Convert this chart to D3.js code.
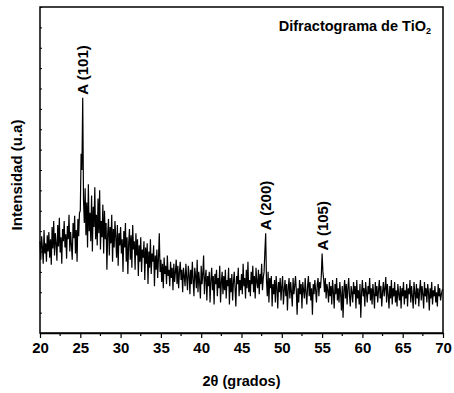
<!DOCTYPE html>
<html>
<head>
<meta charset="utf-8">
<script src="https://cdn.jsdelivr.net/npm/d3@7"></script>
<style>
  html, body { margin: 0; padding: 0; background: #fff; }
  svg { display: block; font-family: "Liberation Sans", Arial, sans-serif; font-weight: bold; }
</style>
</head>
<body>
<svg id="chart" width="454" height="393"></svg>
<script>
// 2θ start/end/step (degrees)
const twoThetaStart = 20;
const twoThetaStep = 0.1;

// Intensity (a.u.), one row per degree, 0.1° step
const intensity = [
  90, 72, 95, 84, 68, 101, 78, 88, 70, 96,        // 20
  80, 99, 74, 92, 67, 104, 83, 110, 76, 98,       // 21
  88, 71, 106, 85, 113, 79, 94, 68, 102, 90,      // 22
  110, 84, 97, 73, 105, 92, 116, 80, 99, 86,      // 23
  72, 108, 93, 115, 78, 101, 70, 112, 95, 118,    // 24
  120, 176, 160, 231, 130, 108, 142, 96, 128, 84, // 25
  146, 100, 118, 90, 135, 80, 124, 104, 143, 92,  // 26
  116, 86, 132, 98, 140, 82, 110, 94, 126, 78,    // 27
  120, 92, 108, 62, 98, 112, 76, 104, 88, 116,    // 28
  70, 102, 84, 110, 94, 74, 106, 66, 98, 86,      // 29
  104, 78, 92, 60, 100, 84, 108, 70, 94, 58,      // 30
  88, 102, 72, 96, 64, 106, 82, 90, 62, 98,       // 31
  76, 92, 56, 86, 70, 94, 60, 82, 74, 90,         // 32
  52, 84, 68, 88, 48, 80, 64, 92, 58, 78,         // 33
  70, 86, 46, 76, 62, 82, 54, 74, 98, 60,         // 34
  72, 50, 68, 44, 74, 58, 66, 48, 76, 56,         // 35
  62, 46, 70, 54, 64, 42, 68, 50, 60, 72,         // 36
  48, 66, 44, 60, 70, 52, 62, 40, 64, 56,         // 37
  46, 68, 54, 42, 66, 58, 38, 62, 48, 70,         // 38
  52, 36, 64, 56, 44, 72, 40, 60, 50, 34,         // 39
  66, 48, 58, 76, 38, 54, 62, 32, 56, 46,         // 40
  60, 30, 52, 64, 42, 56, 28, 58, 48, 62,         // 41
  36, 54, 44, 66, 30, 50, 60, 38, 56, 42,         // 42
  62, 34, 52, 46, 64, 28, 54, 40, 58, 32,         // 43
  50, 60, 44, 26, 56, 48, 64, 36, 52, 42,         // 44
  58, 38, 68, 46, 54, 34, 62, 44, 70, 40,         // 45
  52, 36, 60, 48, 66, 40, 56, 34, 64, 50,         // 46
  44, 62, 38, 58, 48, 68, 42, 54, 60, 80,         // 47
  98, 52, 36, 60, 30, 54, 44, 56, 26, 48,         // 48
  38, 52, 30, 56, 44, 24, 50, 40, 54, 32,         // 49
  46, 56, 28, 42, 52, 36, 48, 22, 44, 54,         // 50
  34, 50, 40, 26, 54, 38, 46, 56, 42, 18,         // 51
  44, 30, 52, 38, 48, 24, 50, 42, 34, 54,         // 52
  40, 28, 46, 56, 36, 50, 32, 44, 18, 48,         // 53
  38, 52, 42, 30, 48, 54, 36, 50, 44, 56,         // 54
  78, 60, 52, 40, 54, 34, 48, 42, 30, 50,         // 55
  36, 46, 28, 52, 40, 24, 48, 38, 54, 32,         // 56
  44, 30, 50, 38, 22, 46, 15, 42, 52, 34,         // 57
  48, 28, 44, 54, 36, 26, 46, 40, 30, 50,         // 58
  38, 46, 24, 52, 34, 42, 28, 48, 15, 40,         // 59
  52, 36, 44, 26, 50, 40, 30, 46, 38, 54,         // 60
  32, 44, 28, 48, 38, 24, 50, 36, 46, 30,         // 61
  42, 52, 34, 46, 26, 40, 50, 36, 44, 55,         // 62
  30, 48, 38, 24, 46, 34, 52, 28, 44, 36,         // 63
  50, 30, 42, 26, 48, 38, 32, 46, 24, 44,         // 64
  36, 50, 28, 42, 34, 48, 26, 44, 38, 52,         // 65
  30, 46, 36, 24, 50, 40, 28, 48, 34, 44,         // 66
  26, 42, 52, 32, 46, 38, 24, 50, 36, 44,         // 67
  30, 48, 40, 22, 44, 34, 50, 28, 42, 36,         // 68
  46, 30, 40, 26, 48, 36, 44, 32, 38, 42,         // 69
  43                                              // 70
];

// Peak annotations
const peakLabels = ["A (101)", "A (200)", "A (105)"];
const peakPositions = [25.3, 48.0, 55.0];

// Axis ticks
const xMajorTicks = [20, 25, 30, 35, 40, 45, 50, 55, 60, 65, 70];
const xDomain = [20, 70];
const yDomain = [0, 320];

const xTitle = "2θ (grados)";
const yTitle = "Intensidad (u.a)";
const chartTitle = "Difractograma de TiO";
const chartTitleSub = "2";

// ---------------------------------------------------------------
const data = intensity.map((v, i) => ({ x: +(twoThetaStart + i * twoThetaStep).toFixed(1), y: v }));

const svg = d3.select("#chart");
const margin = { left: 40, right: 11, top: 7, bottom: 60 };
const W = 454, H = 393;
const x = d3.scaleLinear().domain(xDomain).range([margin.left, W - margin.right]);
const y = d3.scaleLinear().domain(yDomain).range([H - margin.bottom, margin.top]);

// frame
svg.append("rect")
  .attr("x", margin.left).attr("y", margin.top)
  .attr("width", x(xDomain[1]) - x(xDomain[0]))
  .attr("height", y(yDomain[0]) - y(yDomain[1]))
  .attr("fill", "none").attr("stroke", "#000").attr("stroke-width", 1.5);

// x axis
const xAxis = d3.axisBottom(x).tickValues(xMajorTicks).tickSize(5).tickSizeOuter(0).tickPadding(4).tickFormat(d3.format("d"));
const gx = svg.append("g").attr("transform", `translate(0,${y(yDomain[0])})`).call(xAxis);
gx.select(".domain").attr("stroke-width", 1.5);
gx.selectAll(".tick line").attr("stroke-width", 1.2);
gx.selectAll("text").attr("font-size", 15).attr("font-weight", "bold").attr("fill", "#000")
  .attr("font-family", "Liberation Sans, Arial, sans-serif");

// x minor ticks
const xMinor = d3.range(22.5, 70, 5);
svg.append("g").selectAll("line").data(xMinor).join("line")
  .attr("x1", d => x(d)).attr("x2", d => x(d))
  .attr("y1", y(yDomain[0])).attr("y2", y(yDomain[0]) + 3)
  .attr("stroke", "#000").attr("stroke-width", 1.2);

// y inner ticks (no labels)
const yAxis = d3.axisRight(y).ticks(16).tickSize(2).tickSizeOuter(0).tickFormat("");
const gy = svg.append("g").attr("transform", `translate(${margin.left},0)`).call(yAxis);
gy.select(".domain").remove();
gy.selectAll(".tick line").attr("stroke-width", 1);

// line
svg.append("path").datum(data)
  .attr("fill", "none").attr("stroke", "#000").attr("stroke-width", 1.2)
  .attr("stroke-linejoin", "miter")
  .attr("d", d3.line().x(d => x(d.x)).y(d => y(d.y)));

// peak labels
peakLabels.forEach((lab, i) => {
  const p = data.find(d => Math.abs(d.x - peakPositions[i]) < 1e-6);
  svg.append("text")
    .attr("transform", `translate(${x(p.x) + 5.5},${y(p.y) - 3}) rotate(-90)`)
    .attr("font-size", 15).attr("fill", "#000")
    .text(lab);
});

// axis titles
svg.append("text").attr("x", (x(xDomain[0]) + x(xDomain[1])) / 2).attr("y", 386)
  .attr("text-anchor", "middle").attr("font-size", 14.5).attr("fill", "#000").text(xTitle);
svg.append("text")
  .attr("transform", `translate(22,175) rotate(-90)`)
  .attr("text-anchor", "middle").attr("font-size", 15).attr("fill", "#000").text(yTitle);

// chart title
const t = svg.append("text").attr("x", 431).attr("y", 31).attr("text-anchor", "end")
  .attr("font-size", 14.5).attr("fill", "#000");
t.append("tspan").text(chartTitle);
t.append("tspan").attr("font-size", 9).attr("dy", 3).text(chartTitleSub);
</script>
</body>
</html>
